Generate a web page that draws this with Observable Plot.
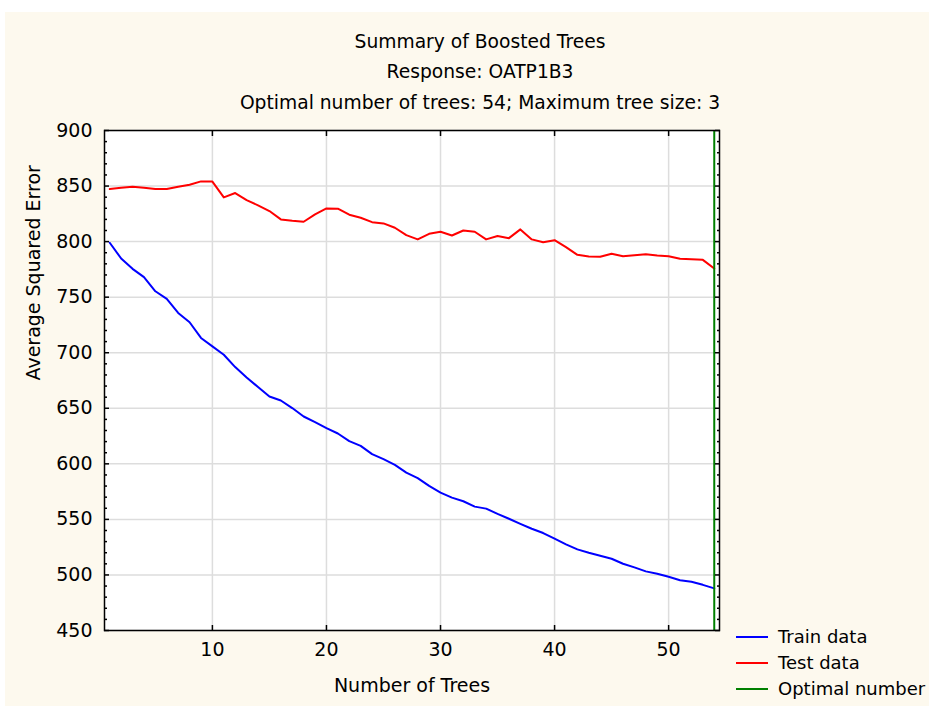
<!DOCTYPE html>
<html>
<head>
<meta charset="utf-8">
<script src="https://cdn.jsdelivr.net/npm/d3@7"></script>
<script src="https://cdn.jsdelivr.net/npm/@observablehq/plot@0.6"></script>
<style>
  html, body { margin: 0; padding: 0; background: #ffffff; overflow: hidden; width: 929px; height: 706px; }
  #bg { position: absolute; left: 5px; top: 12px; width: 924px; height: 694px; background: #fdf9ee; }
  #chart { position: absolute; left: 0; top: 0; }
  .t { position: absolute; font-family: "DejaVu Sans", sans-serif; font-size: 18.7px; line-height: 22px; color: #000; white-space: nowrap; }
  .title { left: 480px; transform: translateX(-50%); }
  .leg { left: 736px; font-size: 18px; }
  .leg .sw { display: inline-block; width: 32px; height: 2px; vertical-align: middle; margin-right: 10px; position: relative; top: -1px; }
</style>
</head>
<body>
<div id="bg"></div>
<div id="chart"></div>
<div class="t title" style="top:31px">Summary of Boosted Trees</div>
<div class="t title" style="top:61px">Response: OATP1B3</div>
<div class="t title" style="top:92px">Optimal number of trees: 54; Maximum tree size: 3</div>
<div class="t leg" style="top:626px"><span class="sw" style="background:#0000ff"></span>Train data</div>
<div class="t leg" style="top:652px"><span class="sw" style="background:#ff0000"></span>Test data</div>
<div class="t leg" style="top:678px"><span class="sw" style="background:#008000"></span>Optimal number</div>
<script>
// ---- data ----
const trees = [1,2,3,4,5,6,7,8,9,10,11,12,13,14,15,16,17,18,19,20,21,22,23,24,25,26,27,28,29,30,31,32,33,34,35,36,37,38,39,40,41,42,43,44,45,46,47,48,49,50,51,52,53,54];
const trainError = [799.0,784.8,775.5,768.0,755.3,748.5,735.8,727.4,713.3,705.7,698.2,687.1,677.8,669.1,660.6,657.0,650.2,642.6,637.5,632.1,627.3,620.4,616.2,608.7,604.2,599.1,592.1,587.1,580.1,574.1,569.6,566.3,561.5,559.7,555.0,550.6,546.0,541.6,537.7,532.6,527.5,523.0,520.0,517.3,514.6,510.1,506.8,503.2,501.1,498.3,495.3,493.8,491.1,487.9];
const testError = [847.3,848.5,849.4,848.5,847.3,847.3,849.4,851.2,854.2,854.0,839.8,843.7,837.4,832.6,827.5,820.0,818.8,817.9,824.5,829.9,829.6,824.2,821.5,817.5,816.4,812.5,805.8,802.0,807.0,808.9,805.5,810.0,808.9,802.0,805.0,803.1,811.0,802.0,799.5,801.3,795.0,788.1,786.6,786.3,789.0,786.9,787.8,788.7,787.5,786.9,784.5,784.2,783.6,775.8];
const optimalTrees = [54];
const xTicks = [10, 20, 30, 40, 50];
const yTicks = [450, 500, 550, 600, 650, 700, 750, 800, 850, 900];
const yMinorTicks = [460,470,480,490,510,520,530,540,560,570,580,590,610,620,630,640,660,670,680,690,710,720,730,740,760,770,780,790,810,820,830,840,860,870,880,890];
const xLabel = "Number of Trees";
const yLabel = "Average Squared Error";

const trainRows = trees.map((t, i) => ({trees: t, err: trainError[i]}));
const testRows = trees.map((t, i) => ({trees: t, err: testError[i]}));

const chart = Plot.plot({
  width: 929,
  height: 706,
  marginTop: 130,
  marginBottom: 76,
  marginLeft: 104,
  marginRight: 210,
  style: {background: "transparent", fontFamily: "DejaVu Sans, sans-serif", fontSize: "19px", color: "#000", overflow: "visible"},
  x: {domain: [0.54, 54.46]},
  y: {domain: [450, 900]},
  marks: [
    Plot.frame({fill: "white", stroke: null}),
    Plot.gridX(xTicks, {stroke: "#dddddd", strokeOpacity: 1, strokeWidth: 1.5}),
    Plot.gridY(yTicks, {stroke: "#dddddd", strokeOpacity: 1, strokeWidth: 1.5}),
    Plot.line(trainRows, {x: "trees", y: "err", stroke: "#0000ff", strokeWidth: 2}),
    Plot.line(testRows, {x: "trees", y: "err", stroke: "#ff0000", strokeWidth: 2}),
    Plot.ruleX(optimalTrees, {stroke: "#008000", strokeWidth: 2}),
    Plot.frame({stroke: "#000", strokeWidth: 1.5}),
    Plot.axisY(yMinorTicks, {anchor: "left", tickSize: -3, text: null, label: null, strokeWidth: 1.5}),
    Plot.axisY(yMinorTicks, {anchor: "right", tickSize: -3, text: null, label: null, strokeWidth: 1.5}),
    Plot.axisY(yTicks, {anchor: "left", tickSize: -5, text: null, label: null, strokeWidth: 1.5}),
    Plot.axisY(yTicks, {anchor: "right", tickSize: -5, text: null, label: null, strokeWidth: 1.5}),
    Plot.axisY(yTicks, {anchor: "left", tickSize: 0, tickPadding: 12, label: null, fontSize: 19}),
    Plot.axisX(xTicks, {anchor: "bottom", tickSize: -5, text: null, label: null, strokeWidth: 1.5}),
    Plot.axisX(xTicks, {anchor: "top", tickSize: -5, text: null, label: null, strokeWidth: 1.5}),
    Plot.axisX(xTicks, {anchor: "bottom", tickSize: 0, tickPadding: 12, label: null, fontSize: 19}),
    Plot.text([xLabel], {frameAnchor: "bottom", dy: 61, text: d => d, fontSize: 19}),
    Plot.text([yLabel], {frameAnchor: "left", dx: -71, rotate: -90, text: d => d, fontSize: 19})
  ]
});
document.getElementById("chart").appendChild(chart);
</script>
</body>
</html>
